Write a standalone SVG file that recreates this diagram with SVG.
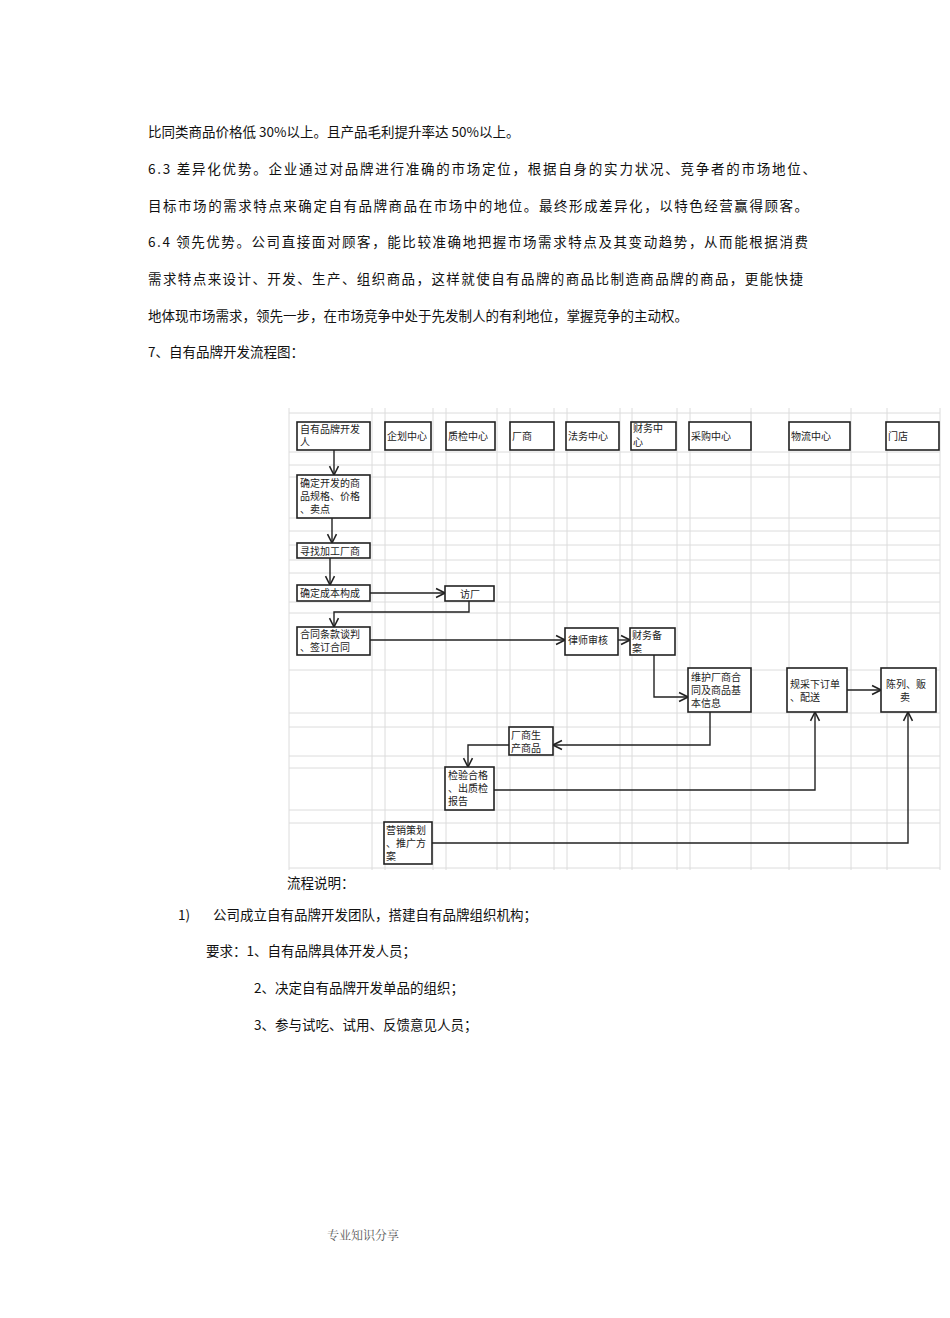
<svg xmlns="http://www.w3.org/2000/svg" width="950" height="1318" viewBox="0 0 950 1318">
<style>
.t{font-family:"Noto Sans CJK SC","Noto Sans",sans-serif;font-size:13.5px;fill:#111}
.b{font-family:"Noto Sans CJK SC",sans-serif;font-size:10px;fill:#222}
.g{stroke:#dcdcdc;stroke-width:1}
.n{fill:#fff;stroke:#222;stroke-width:1.6}
.c{fill:none;stroke:#222;stroke-width:1.4}
</style>
<defs><marker id="a" viewBox="0 0 10 10" refX="9" refY="5" markerWidth="8" markerHeight="8" orient="auto"><path d="M1,1 L9,5 L1,9" fill="none" stroke="#222" stroke-width="1.4"/></marker></defs>
<rect width="950" height="1318" fill="#fff"/>
<g class="t">
<text x="148" y="137">比同类商品价格低 30%以上。且产品毛利提升率达 50%以上。</text>
<text x="148" y="174" textLength="668">6.3  差异化优势。企业通过对品牌进行准确的市场定位，根据自身的实力状况、竞争者的市场地位、</text>
<text x="148" y="211" textLength="660">目标市场的需求特点来确定自有品牌商品在市场中的地位。最终形成差异化，以特色经营赢得顾客。</text>
<text x="148" y="247" textLength="660">6.4  领先优势。公司直接面对顾客，能比较准确地把握市场需求特点及其变动趋势，从而能根据消费</text>
<text x="148" y="284" textLength="655">需求特点来设计、开发、生产、组织商品，这样就使自有品牌的商品比制造商品牌的商品，更能快捷</text>
<text x="148" y="321">地体现市场需求，领先一步，在市场竞争中处于先发制人的有利地位，掌握竞争的主动权。</text>
<text x="148" y="357">7、自有品牌开发流程图：</text>
<text x="287" y="888">流程说明：</text>
<text x="178" y="920">1)</text>
<text x="213" y="920">公司成立自有品牌开发团队，搭建自有品牌组织机构；</text>
<text x="206" y="956">要求：1、自有品牌具体开发人员；</text>
<text x="254" y="993">2、决定自有品牌开发单品的组织；</text>
<text x="254" y="1030">3、参与试吃、试用、反馈意见人员；</text>
</g>
<text x="327" y="1240" font-family="Noto Serif CJK SC,Liberation Serif,serif" font-size="12" fill="#555">专业知识分享</text>
<g id="grid">
<path class="g" d="M289 408V870M372 408V870M385 408V870M433 408V870M446 408V870M497 408V870M510 408V870M554 408V870M567 408V870M620 408V870M632 408V870M677 408V870M690 408V870M751 408V870M789 408V870M851 408V870M887 408V870M940 408V870"/>
<path class="g" d="M289 413H940M289 452H940M289 465H940M289 477H940M289 518H940M289 531H940M289 545H940M289 560H940M289 573H940M289 602H940M289 613H940M289 670H940M289 713H940M289 727H940M289 756H940M289 768H940M289 810H940M289 823H940M289 868H940"/>
</g>
<g id="connectors">
<path class="c" marker-end="url(#a)" d="M334 450V475"/>
<path class="c" marker-end="url(#a)" d="M332 518V543"/>
<path class="c" marker-end="url(#a)" d="M330 558V585"/>
<path class="c" marker-end="url(#a)" d="M370 593H445"/>
<path class="c" marker-end="url(#a)" d="M469 601V612H334V627"/>
<path class="c" marker-end="url(#a)" d="M370 640H565"/>
<path class="c" marker-end="url(#a)" d="M618 640H630"/>
<path class="c" marker-end="url(#a)" d="M654 655V697H688"/>
<path class="c" marker-end="url(#a)" d="M710 712V745H553"/>
<path class="c" marker-end="url(#a)" d="M509 745H468V767"/>
<path class="c" marker-end="url(#a)" d="M494 790H815V712"/>
<path class="c" marker-end="url(#a)" d="M847 690H881"/>
<path class="c" marker-end="url(#a)" d="M432 843H908V712"/>
</g>
<g id="n1"><rect class="n" x="297" y="422" width="73" height="28"/><text class="b" x="300" y="433">自有品牌开发</text><text class="b" x="300" y="446">人</text></g>
<g id="n2"><rect class="n" x="385" y="422" width="46" height="28"/><text class="b" x="387" y="440">企划中心</text></g>
<g id="n3"><rect class="n" x="446" y="422" width="49" height="28"/><text class="b" x="448" y="440">质检中心</text></g>
<g id="n4"><rect class="n" x="510" y="422" width="44" height="28"/><text class="b" x="512" y="440">厂商</text></g>
<g id="n5"><rect class="n" x="566" y="422" width="53" height="28"/><text class="b" x="568" y="440">法务中心</text></g>
<g id="n6"><rect class="n" x="631" y="422" width="45" height="28"/><text class="b" x="633" y="432">财务中</text><text class="b" x="633" y="446">心</text></g>
<g id="n7"><rect class="n" x="689" y="422" width="62" height="28"/><text class="b" x="691" y="440">采购中心</text></g>
<g id="n8"><rect class="n" x="789" y="422" width="61" height="28"/><text class="b" x="791" y="440">物流中心</text></g>
<g id="n9"><rect class="n" x="886" y="422" width="53" height="28"/><text class="b" x="888" y="440">门店</text></g>
<g id="n10"><rect class="n" x="297" y="475" width="73" height="43"/><text class="b" x="300" y="487">确定开发的商</text><text class="b" x="300" y="500">品规格、价格</text><text class="b" x="300" y="513">、卖点</text></g>
<g id="n11"><rect class="n" x="297" y="543" width="73" height="15"/><text class="b" x="300" y="555">寻找加工厂商</text></g>
<g id="n12"><rect class="n" x="297" y="585" width="73" height="16"/><text class="b" x="300" y="597">确定成本构成</text></g>
<g id="n13"><rect class="n" x="445" y="586" width="49" height="15"/><text class="b" x="460" y="598">访厂</text></g>
<g id="n14"><rect class="n" x="297" y="627" width="73" height="28"/><text class="b" x="300" y="638">合同条款谈判</text><text class="b" x="300" y="651">、签订合同</text></g>
<g id="n15"><rect class="n" x="565" y="628" width="53" height="27"/><text class="b" x="568" y="644">律师审核</text></g>
<g id="n16"><rect class="n" x="630" y="628" width="45" height="27"/><text class="b" x="632" y="639">财务备</text><text class="b" x="632" y="652">案</text></g>
<g id="n17"><rect class="n" x="688" y="668" width="63" height="44"/><text class="b" x="691" y="681">维护厂商合</text><text class="b" x="691" y="694">同及商品基</text><text class="b" x="691" y="707">本信息</text></g>
<g id="n18"><rect class="n" x="787" y="668" width="60" height="44"/><text class="b" x="790" y="688">规采下订单</text><text class="b" x="790" y="701">、配送</text></g>
<g id="n19"><rect class="n" x="881" y="668" width="55" height="44"/><text class="b" x="886" y="688">陈列、贩</text><text class="b" x="900" y="701">卖</text></g>
<g id="n20"><rect class="n" x="509" y="727" width="44" height="28"/><text class="b" x="511" y="739">厂商生</text><text class="b" x="511" y="752">产商品</text></g>
<g id="n21"><rect class="n" x="445" y="767" width="49" height="43"/><text class="b" x="448" y="779">检验合格</text><text class="b" x="448" y="792">、出质检</text><text class="b" x="448" y="805">报告</text></g>
<g id="n22"><rect class="n" x="384" y="822" width="48" height="42"/><text class="b" x="386" y="834">营销策划</text><text class="b" x="386" y="847">、推广方</text><text class="b" x="386" y="860">案</text></g>
</svg>
